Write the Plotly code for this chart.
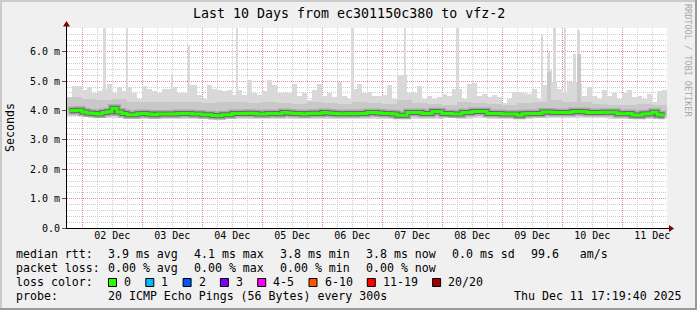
import plotly.graph_objects as go
import pandas as pd

# ---------------- data ----------------
T0 = pd.Timestamp("2025-12-01 17:53")
T1 = T0 + pd.Timedelta(days=10)

# top of the smoke (max ping) per 2-hour column, ms
smoke_max = [
    4.45, 4.85, 4.85, 4.70, 4.80, 4.60, 4.65, 4.75, 4.90, 4.60,
    4.80, 4.65, 4.80, 4.60, 4.40, 4.85, 4.75, 4.65, 4.60, 4.75,
    4.75, 4.80, 4.60, 4.58, 4.86, 4.86, 4.52, 4.40, 4.86, 4.75,
    4.70, 4.65, 4.70, 4.52, 4.70, 4.52, 5.03, 4.58, 4.52, 4.65,
    5.05, 4.86, 4.58, 4.60, 4.58, 4.90, 4.50, 4.58, 4.35, 4.70,
    4.92, 4.50, 4.58, 4.46, 4.97, 4.50, 4.40, 4.75, 4.92, 4.60,
    4.63, 4.50, 4.50, 4.52, 4.86, 4.40, 5.20, 5.20, 4.60, 4.58,
    4.85, 4.40, 4.50, 4.40, 4.46, 4.55, 4.50, 4.72, 4.75, 4.40,
    4.90, 4.95, 4.50, 4.55, 4.45, 4.52, 4.46, 4.25, 4.40, 4.63,
    4.63, 4.58, 4.55, 4.75, 4.40, 4.86, 5.37, 4.97, 4.75, 4.63,
    4.97, 4.97, 4.92, 4.50, 4.80, 4.50, 4.40, 4.70, 4.50, 4.58,
    4.40, 4.58, 4.70, 4.45, 4.50, 4.40, 4.55, 4.30, 4.65, 4.70,
]

# median rtt per 2-hour column, ms
median_rtt = [
    3.99, 4.00, 4.01, 3.95, 3.92, 3.90, 3.88, 3.93, 3.96, 4.08,
    3.95, 3.90, 3.86, 3.86, 3.89, 3.90, 3.88, 3.86, 3.88, 3.88,
    3.88, 3.88, 3.90, 3.90, 3.90, 3.88, 3.88, 3.86, 3.86, 3.83,
    3.82, 3.86, 3.86, 3.90, 3.90, 3.90, 3.91, 3.90, 3.88, 3.88,
    3.90, 3.90, 3.89, 3.93, 3.92, 3.90, 3.90, 3.88, 3.90, 3.91,
    3.90, 3.93, 3.92, 3.90, 3.89, 3.89, 3.90, 3.89, 3.90, 3.90,
    3.93, 3.93, 3.92, 3.90, 3.90, 3.88, 3.84, 3.84, 3.93, 3.93,
    3.93, 3.90, 3.90, 3.97, 3.96, 3.90, 3.90, 3.88, 3.88, 3.93,
    3.93, 3.97, 3.97, 3.97, 3.90, 3.90, 3.90, 3.88, 3.88, 3.88,
    3.84, 3.89, 3.90, 3.90, 3.90, 3.95, 3.95, 3.93, 3.93, 3.93,
    3.93, 3.97, 3.97, 3.96, 3.93, 3.93, 3.93, 3.94, 3.94, 3.94,
    3.89, 3.89, 3.90, 3.85, 3.84, 3.88, 3.89, 3.94, 3.86, 3.84,
]

# 6-hour smoke envelope (ms)
smoke_min = [
    3.80, 3.78, 3.76, 3.76, 3.72, 3.72, 3.72, 3.72, 3.72, 3.70,
    3.70, 3.72, 3.72, 3.72, 3.72, 3.72, 3.72, 3.72, 3.72, 3.72,
    3.72, 3.72, 3.70, 3.72, 3.72, 3.74, 3.72, 3.74, 3.72, 3.72,
    3.72, 3.74, 3.74, 3.75, 3.75, 3.74, 3.72, 3.70, 3.72, 3.70,
]
band_lo = [
    3.86, 3.84, 3.82, 3.81, 3.79, 3.78, 3.78, 3.78, 3.78, 3.77,
    3.77, 3.78, 3.79, 3.79, 3.79, 3.78, 3.78, 3.78, 3.79, 3.79,
    3.79, 3.78, 3.77, 3.79, 3.80, 3.80, 3.79, 3.80, 3.79, 3.78,
    3.78, 3.80, 3.80, 3.81, 3.81, 3.80, 3.79, 3.77, 3.78, 3.77,
]
band_hi = [
    4.45, 4.40, 4.35, 4.40, 4.30, 4.30, 4.28, 4.30, 4.30, 4.25,
    4.30, 4.28, 4.25, 4.30, 4.25, 4.22, 4.28, 4.25, 4.22, 4.28,
    4.25, 4.22, 4.35, 4.25, 4.22, 4.20, 4.30, 4.25, 4.22, 4.20,
    4.25, 4.30, 4.35, 4.30, 4.30, 4.22, 4.20, 4.20, 4.22, 4.18,
]

# narrow spikes of the max ping
spike_times = [
    "2025-12-02 08:53", "2025-12-02 17:53", "2025-12-03 11:53", "2025-12-03 18:41",
    "2025-12-04 13:53", "2025-12-06 12:05", "2025-12-07 09:05", "2025-12-08 06:05",
    "2025-12-09 15:53", "2025-12-09 18:41", "2025-12-09 20:53", "2025-12-10 01:05",
    "2025-12-10 04:53", "2025-12-10 06:29",
]
spike_vals = [6.81, 6.81, 5.25, 6.20, 6.81, 6.81, 6.81, 6.81, 6.56, 6.00, 6.81, 6.81, 5.94, 6.73]
mid_spike_times = ["2025-12-09 18:41", "2025-12-10 06:29"]
mid_spike_vals = [5.30, 5.94]

day_starts = pd.date_range("2025-12-02", "2025-12-11", freq="D")
day_labels = ["02 Dec", "03 Dec", "04 Dec", "05 Dec", "06 Dec",
              "07 Dec", "08 Dec", "09 Dec", "10 Dec", "11 Dec"]
y_tickvals = [0, 1, 2, 3, 4, 5, 6]
y_ticktext = ["0.0", "1.0 m", "2.0 m", "3.0 m", "4.0 m", "5.0 m", "6.0 m"]

title_text = "Last 10 Days from ec301150c380 to vfz-2"
rtt_items = ["3.9 ms avg", "4.1 ms max", "3.8 ms min", "3.8 ms now", "0.0 ms sd"]
rtt_tail = "99.6   am/s"
loss_items = ["0.00 % avg", "0.00 % max", "0.00 % min", "0.00 % now"]
loss_labels = ["0", "1", "2", "3", "4-5", "6-10", "11-19", "20/20"]
loss_colors = ["#26ff00", "#00b8ff", "#0059ff", "#7e00ff", "#ff00ff", "#ff5500", "#ff0000", "#a10000"]
probe_text = "20 ICMP Echo Pings (56 Bytes) every 300s"
stamp_text = "Thu Dec 11 17:19:40 2025"

# ---------------- geometry ----------------
W, H = 697, 310
L, R, T, B = 67, 30, 28, 82
PW, PH = W - L - R, H - T - B


def px(x):
    return (x - L) / PW


def py(y):
    return (T + PH - y) / PH


MONO = "DejaVu Sans Mono"
H2 = pd.Timedelta(hours=2)
H6 = pd.Timedelta(hours=6)
col_x = [T0 + H2 * k + H2 / 2 for k in range(len(smoke_max))]
band_x = [T0 + H6 * k + H6 / 2 for k in range(len(band_hi))]
label_x = [d + pd.Timedelta(hours=12) for d in day_starts]


def floor_at(t):
    i = int((pd.Timestamp(t) - T0) / H6)
    return smoke_min[max(0, min(i, len(smoke_min) - 1))]


LIGHT, MID = "#d9d9d9", "#c8c8c8"
fig = go.Figure()

# light smoke
fig.add_trace(go.Bar(
    x=col_x, y=[m - smoke_min[k // 3] for k, m in enumerate(smoke_max)],
    base=[smoke_min[k // 3] for k in range(len(smoke_max))],
    width=H2.total_seconds() * 1000, marker=dict(color=LIGHT, line=dict(width=0)),
    hoverinfo="skip"))
fig.add_trace(go.Bar(
    x=spike_times, y=[v - floor_at(t) for t, v in zip(spike_times, spike_vals)],
    base=[floor_at(t) for t in spike_times],
    width=1.0 * 3600 * 1000, marker=dict(color=LIGHT, line=dict(width=0)),
    hoverinfo="skip"))
# mid smoke
fig.add_trace(go.Bar(
    x=band_x, y=[h - l for h, l in zip(band_hi, band_lo)], base=band_lo,
    width=H6.total_seconds() * 1000, marker=dict(color=MID, line=dict(width=0)),
    hoverinfo="skip"))
fig.add_trace(go.Bar(
    x=mid_spike_times, y=[v - 4.0 for v in mid_spike_vals], base=[4.0] * len(mid_spike_vals),
    width=1.6 * 3600 * 1000, marker=dict(color=MID, line=dict(width=0)),
    hoverinfo="skip"))
# near-median smoke + median line
for col, w in (("#a9a9a9", 8), ("#6a6a6a", 5), ("#26ff00", 3)):
    fig.add_trace(go.Scatter(
        x=col_x, y=median_rtt, mode="lines", line=dict(color=col, width=w, shape="hvh"),
        hoverinfo="skip"))
# carrier for the label axis
fig.add_trace(go.Scatter(x=[label_x[0]], y=[0], xaxis="x2", mode="markers",
                         marker=dict(opacity=0), hoverinfo="skip"))

GRID_RED = "rgba(255,0,0,0.32)"
GRID_GRAY = "#cccccc"
fig.update_layout(
    width=W, height=H, margin=dict(l=L, r=R, t=T, b=B, autoexpand=False),
    paper_bgcolor="#f0f0f0", plot_bgcolor="#ffffff",
    showlegend=False, barmode="overlay", bargap=0,
    font=dict(family=MONO, size=10, color="#000000"),
    xaxis=dict(
        type="date", range=[T0, T1], tickmode="array", tickvals=list(day_starts),
        showticklabels=False, ticks="", showline=False, zeroline=False, automargin=False,
        showgrid=True, gridcolor=GRID_RED, gridwidth=1, griddash="1px,1px",
        minor=dict(tickmode="linear", dtick=21600000, tick0="2025-12-02", showgrid=True,
                   gridcolor=GRID_GRAY, gridwidth=1, griddash="1px,1px"),
    ),
    xaxis2=dict(
        type="date", range=[T0, T1], overlaying="x", side="bottom", anchor="y",
        tickmode="array", tickvals=label_x, ticktext=day_labels, ticks="",
        showgrid=False, showline=False, zeroline=False, automargin=False,
        tickfont=dict(family=MONO, size=10, color="#000"),
    ),
    yaxis=dict(
        range=[0, 6.81], tickvals=y_tickvals, ticktext=y_ticktext,
        ticks="outside", ticklen=4, tickcolor="#555555", tickwidth=1,
        showline=False, zeroline=False, automargin=False,
        showgrid=True, gridcolor=GRID_RED, gridwidth=1, griddash="1px,1px",
        minor=dict(dtick=0.2, tick0=0, showgrid=True, gridcolor=GRID_GRAY,
                   gridwidth=1, griddash="1px,1px"),
        tickfont=dict(family=MONO, size=10, color="#000"),
    ),
)

shapes = []
# frame (3-D shade)
shapes.append(dict(type="rect", xref="paper", yref="paper", x0=px(0), x1=px(W), y0=py(0), y1=py(2),
                   fillcolor="#cbcbcb", line=dict(width=0), layer="above"))
shapes.append(dict(type="rect", xref="paper", yref="paper", x0=px(0), x1=px(2), y0=py(0), y1=py(H),
                   fillcolor="#cbcbcb", line=dict(width=0), layer="above"))
shapes.append(dict(type="rect", xref="paper", yref="paper", x0=px(0), x1=px(W), y0=py(H - 2), y1=py(H),
                   fillcolor="#999999", line=dict(width=0), layer="above"))
shapes.append(dict(type="rect", xref="paper", yref="paper", x0=px(W - 2), x1=px(W), y0=py(0), y1=py(H),
                   fillcolor="#999999", line=dict(width=0), layer="above"))
# axes lines
shapes.append(dict(type="line", xref="paper", yref="paper", x0=px(66), x1=px(670), y0=py(228.5), y1=py(228.5),
                   line=dict(color="#000000", width=1), layer="above"))
shapes.append(dict(type="line", xref="paper", yref="paper", x0=px(66.5), x1=px(66.5), y0=py(228), y1=py(25),
                   line=dict(color="#000000", width=1), layer="above"))
# arrows
shapes.append(dict(type="path", xref="paper", yref="paper",
                   path=f"M {px(669)},{py(225)} L {px(674)},{py(228.5)} L {px(669)},{py(232)} Z",
                   fillcolor="#7f0000", line=dict(width=0), layer="above"))
shapes.append(dict(type="path", xref="paper", yref="paper",
                   path=f"M {px(63)},{py(26.5)} L {px(66.5)},{py(21)} L {px(70)},{py(26.5)} Z",
                   fillcolor="#7f0000", line=dict(width=0), layer="above"))

ann = []


def text(x, y, s, size=11.6, anchor="left", color="#000000", angle=0, yanchor="middle"):
    ann.append(dict(x=px(x), y=py(y), xref="paper", yref="paper", text=s, showarrow=False,
                    xanchor=anchor, yanchor=yanchor, textangle=angle,
                    font=dict(family=MONO, size=size, color=color), borderpad=0))


text(348.5, 13, title_text, size=13.3, anchor="center")
text(10, 128, "Seconds", size=11.6, anchor="center", angle=-90)
text(688, 60, "RRDTOOL / TOBI OETIKER", size=8.5, anchor="center", color="#a8a8a8", angle=90)

LX = 15
COL0, STEP = 106.5, 86
text(LX, 254, "median rtt:")
for i, s in enumerate(rtt_items):
    text(COL0 + STEP * i, 254, s)
text(530, 254, rtt_tail)
text(LX, 268, "packet loss:")
for i, s in enumerate(loss_items):
    text(COL0 + STEP * i, 268, s)
text(LX, 282, "loss color:")
bx = 108.5
for lab, colr in zip(loss_labels, loss_colors):
    shapes.append(dict(type="rect", xref="paper", yref="paper", x0=px(bx), x1=px(bx + 8),
                       y0=py(278.5), y1=py(286.5), fillcolor=colr,
                       line=dict(color="#000000", width=1), layer="above"))
    text(bx + 14.5, 282, lab)
    bx = bx + 15 + 7 * len(lab) + 15.3
text(LX, 296, "probe:")
text(COL0, 296, probe_text)
text(512.5, 296, stamp_text)

fig.update_layout(shapes=shapes, annotations=ann)
fig.write_html("out.html")
